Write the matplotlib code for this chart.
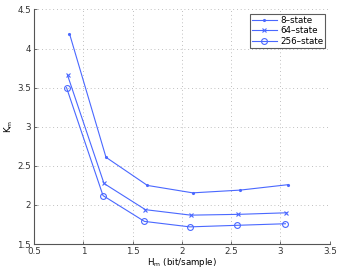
import matplotlib.pyplot as plt

# rate H_m (bit/sample) and K_m for each trellis size
h_8 = [0.86, 1.23, 1.65, 2.11, 2.59, 3.08]
k_8 = [4.19, 2.61, 2.25, 2.155, 2.19, 2.26]

h_64 = [0.84, 1.21, 1.63, 2.09, 2.57, 3.06]
k_64 = [3.66, 2.275, 1.94, 1.87, 1.88, 1.90]

h_256 = [0.83, 1.20, 1.62, 2.08, 2.56, 3.05]
k_256 = [3.50, 2.12, 1.79, 1.72, 1.74, 1.76]

color = '#4a68ff'

fig = plt.figure(figsize=(3.4, 2.7), dpi=100)
ax = fig.add_axes([0.1, 0.096, 0.87, 0.869])

ax.plot(h_8, k_8, color=color, marker='.', markersize=2.5, linewidth=0.8,
        label='8\u2013state')
ax.plot(h_64, k_64, color=color, marker='x', markersize=3, linewidth=0.8,
        markeredgewidth=0.8, label='64\u2013state')
ax.plot(h_256, k_256, color=color, marker='o', markersize=4.2, linewidth=0.8,
        markerfacecolor='none', markeredgewidth=0.8, label='256\u2013state')

ax.set_xlim(0.5, 3.5)
ax.set_ylim(1.5, 4.5)
ax.set_xticks([0.5, 1, 1.5, 2, 2.5, 3, 3.5])
ax.set_xticklabels(['0.5', '1', '1.5', '2', '2.5', '3', '3.5'])
ax.set_yticks([1.5, 2, 2.5, 3, 3.5, 4, 4.5])
ax.set_yticklabels(['1.5', '2', '2.5', '3', '3.5', '4', '4.5'])
ax.tick_params(direction='in', labelsize=6.3, length=2, width=0.5,
               colors='#333333', pad=2)
ax.grid(True, linestyle=(0, (1, 3.5)), color='#aaaaaa', linewidth=0.6)

for side in ['top', 'right']:
    ax.spines[side].set_visible(False)
for side in ['left', 'bottom']:
    ax.spines[side].set_color('#555555')
    ax.spines[side].set_linewidth(0.8)

ax.set_xlabel('H$_\\mathrm{m}$ (bit/sample)', fontsize=6.3, labelpad=0)
ax.set_ylabel('K$_\\mathrm{m}$', fontsize=6.3, labelpad=2)

leg = ax.legend(loc='upper right', fontsize=6.3, frameon=True, fancybox=False,
                handlelength=2.8, borderpad=0.25, labelspacing=0.15,
                handletextpad=0.4, bbox_to_anchor=(1.0, 1.0))
leg.get_frame().set_edgecolor('#333333')
leg.get_frame().set_linewidth(0.8)

fig.savefig('out.png', dpi=100)
